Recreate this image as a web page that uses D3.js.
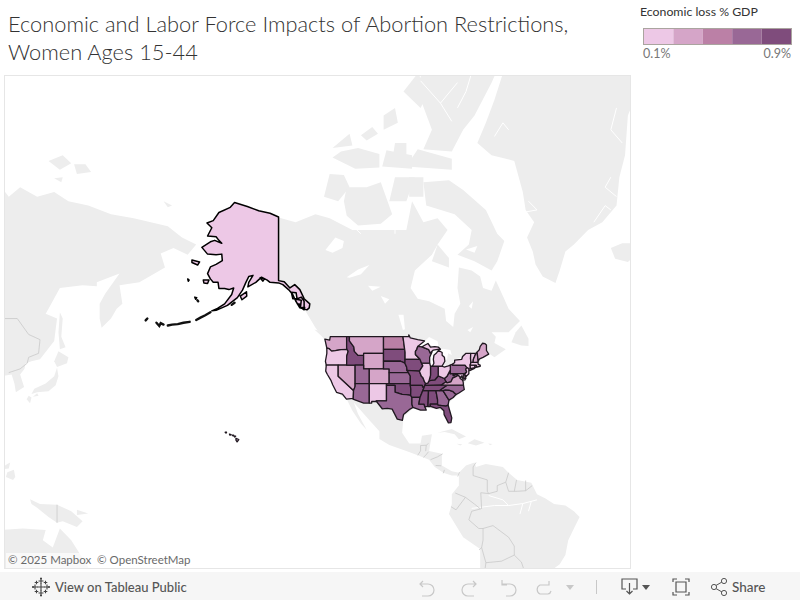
<!DOCTYPE html>
<html>
<head>
<meta charset="utf-8">
<script src="https://cdn.jsdelivr.net/npm/d3@7"></script>
<style>
  html, body { margin: 0; padding: 0; background: #fff; }
  svg { display: block; }
  text { font-family: Lato, "Open Sans", sans-serif; }
</style>
</head>
<body>
<svg id="chart" width="800" height="600"></svg>
<script>
// Title + legend
var titleLines = ['Economic and Labor Force Impacts of Abortion Restrictions,', 'Women Ages 15-44'];
var legendTitle = 'Economic loss % GDP';
var legendLabels = ['0.1%', '0.9%'];
var lossDomain = [0.1, 0.9];
var lossSteps = ['#edc8e6', '#d5a5c8', '#bb80a6', '#996896', '#7f4c7c'];

var stateCodes = ['WA','OR','CA','NV','ID','MT','WY','UT','AZ','CO','NM','ND','SD','NE','KS','OK','TX','MN','IA','MO','AR','LA','MS','AL','GA','FL','SC','NC','TN','KY','WV','VA','MD','DE','PA','OH','IN','IL','WI','MI','NY','NJ','CT','RI','MA','VT','NH','ME','AK','HI'];
var stateLoss = [0.35,0.2,0.2,0.35,0.8,0.35,0.35,0.65,0.65,0.35,0.2,0.5,0.8,0.65,0.65,0.8,0.65,0.2,0.8,0.8,0.8,0.65,0.8,0.8,0.65,0.8,0.65,0.65,0.8,0.8,0.65,0.35,0.2,0.35,0.65,0.2,0.8,0.2,0.65,0.2,0.2,0.2,0.2,0.2,0.2,0.2,0.35,0.35,0.2,0.2];

// State outlines, [lon, lat]
var stateShapes = {
  WA: [[[-124.7,48.4],[-123,48.2],[-122.8,49],[-117.03,49],[-117.03,46.4],[-116.92,46],[-119,45.9],[-121,45.65],[-122.3,45.55],[-123.2,46.15],[-124,46.3]]],
  OR: [[[-124,46.3],[-123.2,46.15],[-122.3,45.55],[-121,45.65],[-119,45.9],[-116.92,46],[-116.5,45.5],[-117,44.3],[-117.03,42],[-124.2,42],[-124.5,43],[-124,45]]],
  CA: [[[-124.2,42],[-120,42],[-120,39],[-114.6,35],[-114.7,32.7],[-117.1,32.5],[-118.5,34],[-120.6,34.5],[-121.9,36.6],[-122.5,37.8],[-123.8,39.5],[-124.4,40.4]]],
  NV: [[[-120,42],[-114.04,42],[-114.04,36.2],[-114.6,35],[-120,39]]],
  ID: [[[-117.03,49],[-116.05,49],[-116.05,48],[-114.5,46.6],[-114.3,45.5],[-113,44.5],[-111.05,44.5],[-111.05,42],[-117.03,42],[-117,44.3],[-116.5,45.5],[-116.92,46],[-117.03,46.4]]],
  MT: [[[-116.05,49],[-104.05,49],[-104.05,45],[-111.05,45],[-111.05,44.5],[-113,44.5],[-114.3,45.5],[-114.5,46.6],[-116.05,48]]],
  WY: [[[-111.05,45],[-104.05,45],[-104.05,41],[-111.05,41]]],
  UT: [[[-114.04,42],[-111.05,42],[-111.05,41],[-109.05,41],[-109.05,37],[-114.04,37]]],
  AZ: [[[-114.04,37],[-109.05,37],[-109.05,31.33],[-111,31.33],[-114.8,32.5],[-114.7,32.7],[-114.6,35],[-114.04,36.2]]],
  CO: [[[-109.05,41],[-102.05,41],[-102.05,37],[-109.05,37]]],
  NM: [[[-109.05,37],[-103,37],[-103,32],[-106.6,32],[-106.5,31.8],[-108.2,31.8],[-108.2,31.33],[-109.05,31.33]]],
  ND: [[[-104.05,49],[-97.2,49],[-96.6,46],[-104.05,46]]],
  SD: [[[-104.05,46],[-96.6,46],[-96.45,45.3],[-96.45,43.5],[-96.5,42.5],[-98,43],[-104.05,43]]],
  NE: [[[-104.05,43],[-98,43],[-96.5,42.5],[-95.9,41.5],[-95.75,40.6],[-95.3,40],[-102.05,40],[-102.05,41],[-104.05,41]]],
  KS: [[[-102.05,40],[-95.3,40],[-94.6,39.1],[-94.62,37],[-102.05,37]]],
  OK: [[[-103,37],[-94.62,37],[-94.43,35.4],[-94.48,33.64],[-96,33.8],[-97.5,33.9],[-100,34.56],[-100,36.5],[-103,36.5]]],
  TX: [[[-103,36.5],[-100,36.5],[-100,34.56],[-97.5,33.9],[-96,33.8],[-94.48,33.64],[-94.04,33],[-94.04,31],[-93.7,30],[-94.7,29.5],[-97,27.8],[-97.4,26],[-99.2,26.4],[-101,29.5],[-102.7,29.7],[-104.5,29.6],[-106.5,31.8],[-106.6,32],[-103,32]]],
  MN: [[[-97.2,49],[-95.15,49],[-95.15,49.4],[-94.6,48.7],[-92,48.3],[-89.6,48],[-92,46.7],[-92.3,46],[-92.8,45.5],[-92.8,44.7],[-91.2,43.5],[-96.45,43.5],[-96.45,45.3],[-96.6,46]]],
  IA: [[[-96.45,43.5],[-91.2,43.5],[-90.2,41.8],[-91.4,40.4],[-95.75,40.6],[-95.9,41.5],[-96.5,42.5]]],
  MO: [[[-95.75,40.6],[-91.4,40.4],[-90.7,39],[-90.2,38.7],[-89.5,37.3],[-89.15,37],[-89.7,36],[-90.3,36],[-90.37,36.5],[-94.62,36.5],[-94.62,37],[-94.6,39.1],[-95.3,40]]],
  AR: [[[-94.62,36.5],[-90.37,36.5],[-90.3,36],[-89.7,36],[-91.2,33],[-94.04,33],[-94.48,33.64],[-94.43,35.4]]],
  LA: [[[-94.04,33],[-91.2,33],[-91.6,31],[-89.75,31],[-89.5,30.2],[-89,29.2],[-91,29.2],[-93.7,30],[-94.04,31]]],
  MS: [[[-91.2,33],[-90.2,35],[-88.2,35],[-88.4,30.3],[-89.5,30.2],[-89.75,31],[-91.6,31]]],
  AL: [[[-88.2,35],[-85.6,35],[-85,32.3],[-85,31],[-87.6,31],[-87.5,30.3],[-88.4,30.3]]],
  GA: [[[-85.6,35],[-83.1,35],[-81,32.2],[-81.3,30.7],[-82.1,30.4],[-84.9,30.7],[-85,31],[-85,32.3]]],
  FL: [[[-87.6,31],[-85,31],[-84.9,30.7],[-82.1,30.4],[-81.3,30.7],[-80.5,28.3],[-80,26.8],[-80.3,25.3],[-81.2,25.2],[-82.7,27.8],[-82.8,29],[-84,30],[-85.4,29.7],[-87.5,30.3]]],
  SC: [[[-83.1,35],[-82.3,35.2],[-81,35.1],[-79.7,34.8],[-78.55,33.85],[-79.5,33],[-81,32.2]]],
  NC: [[[-84.3,35],[-83.1,35],[-82.3,35.2],[-81,35.1],[-79.7,34.8],[-78.55,33.85],[-77.5,34.3],[-75.6,35.3],[-75.9,36.55],[-81.7,36.55],[-82.6,36]]],
  TN: [[[-89.7,36],[-89.5,36.5],[-83.68,36.6],[-81.7,36.55],[-82.6,36],[-84.3,35],[-85.6,35],[-88.2,35],[-90.2,35]]],
  KY: [[[-89.15,37],[-89.5,36.5],[-83.68,36.6],[-82,37.5],[-82.6,38.4],[-84.8,39.1],[-86,38],[-88,37.8],[-88.5,37.1]]],
  WV: [[[-82,37.5],[-82.6,38.4],[-81.7,39],[-80.6,40.6],[-80.52,39.72],[-79.48,39.72],[-79.48,39.2],[-78.4,39.6],[-77.75,39.3],[-78.4,39],[-79.7,38.5],[-80.3,37.5],[-81.7,37.2]]],
  VA: [[[-83.68,36.6],[-81.7,36.55],[-75.9,36.55],[-76,37.5],[-76.3,38],[-77,38.4],[-77.1,38.9],[-77.75,39.3],[-78.4,39],[-79.7,38.5],[-80.3,37.5],[-81.7,37.2],[-82,37.5]]],
  MD: [[[-79.48,39.72],[-75.79,39.72],[-75.7,38.45],[-75.1,38.45],[-75.4,38],[-76,37.95],[-76.4,39.2],[-77,38.4],[-77.1,38.9],[-77.75,39.3],[-78.4,39.6],[-79.48,39.2]]],
  DE: [[[-75.79,39.72],[-75.4,39.8],[-75.1,38.8],[-75.1,38.45],[-75.7,38.45]]],
  PA: [[[-80.52,42],[-79.76,42.25],[-79.76,42],[-75.35,42],[-74.7,41.35],[-75.1,40.9],[-74.75,40.2],[-75.4,39.8],[-75.79,39.72],[-80.52,39.72]]],
  OH: [[[-84.8,41.7],[-83.45,41.73],[-82.7,41.5],[-81.2,41.8],[-80.52,42],[-80.52,39.72],[-80.6,40.6],[-81.7,39],[-82.6,38.4],[-84.8,39.1]]],
  IN: [[[-87.5,41.7],[-84.8,41.7],[-84.8,39.1],[-86,38],[-88,37.8],[-87.5,39.3]]],
  IL: [[[-90.2,41.8],[-90.65,42.5],[-87.8,42.5],[-87.5,41.7],[-87.5,39.3],[-88,37.8],[-88.5,37.1],[-89.15,37],[-89.5,37.3],[-90.2,38.7],[-90.7,39],[-91.4,40.4]]],
  WI: [[[-92.8,44.7],[-92.8,45.5],[-92.3,46],[-92,46.7],[-90.5,46.6],[-88.1,45.9],[-87.6,45.1],[-87,45.3],[-87.8,44],[-87.8,42.5],[-90.65,42.5],[-91.2,43.5]]],
  MI: [[[-86.8,41.76],[-84.8,41.7],[-83.45,41.73],[-83,42.3],[-82.45,43],[-82.6,44],[-83.4,44.5],[-83.4,45.2],[-84.7,45.75],[-85.5,45],[-86.3,44.5],[-86.5,43.5],[-86.3,42.5]],
       [[-90.5,46.6],[-88.1,45.9],[-87.6,45.1],[-86.5,45.8],[-85,46],[-84,46],[-84.7,46.5],[-86,46.65],[-87.5,46.5],[-88.4,47.4]]],
  NY: [[[-79.76,42.25],[-79,42.7],[-79,43.3],[-76.5,43.5],[-76.2,44.2],[-75,45],[-73.35,45],[-73.4,43.6],[-73.25,42.75],[-73.5,42.05],[-73.5,41.05],[-72,41.1],[-73.7,40.55],[-74,40.7],[-74,41],[-74.7,41.35],[-75.35,42],[-79.76,42]]],
  NJ: [[[-74.7,41.35],[-74,41],[-74,39.7],[-74.9,39],[-75.5,39.5],[-74.75,40.2],[-75.1,40.9]]],
  CT: [[[-73.5,42.05],[-71.8,42],[-71.85,41.32],[-73.5,41.05]]],
  RI: [[[-71.8,42],[-71.38,42],[-71.2,41.5],[-71.85,41.32]]],
  MA: [[[-73.25,42.75],[-71.3,42.7],[-70.8,42.85],[-70.7,42.2],[-70,42],[-70,41.7],[-71.2,41.5],[-71.38,42],[-71.8,42],[-73.5,42.05]]],
  VT: [[[-73.35,45],[-71.5,45],[-72.4,43.5],[-72.5,42.73],[-73.25,42.75],[-73.4,43.6]]],
  NH: [[[-71.5,45],[-71.1,45.3],[-70.7,43.1],[-70.8,42.85],[-71.3,42.7],[-72.5,42.73],[-72.4,43.5]]],
  ME: [[[-71.1,45.3],[-70.3,45.9],[-70,46.7],[-69.2,47.45],[-68.3,47.35],[-67.8,47.05],[-67.8,45.7],[-67,44.8],[-69,44],[-70.2,43.6],[-70.7,43.1]]],
  AK: [[[-141,69.65],[-144,70.1],[-148,70.4],[-152,70.9],[-156.5,71.35],[-158,70.8],[-162,70.2],[-164,69.2],[-166.2,68.9],[-164.5,68.3],[-166,67.2],[-163,67.1],[-162,66.6],[-161,66.2],[-163.5,66.6],[-165,66.4],[-168,65.6],[-166,64.6],[-163,64.5],[-161,64.6],[-160.8,63.6],[-163,63],[-165,62.6],[-166,61.5],[-165,60.6],[-164,60],[-162.3,60],[-162,58.9],[-160,58.9],[-158.5,58.7],[-156.8,59],[-157.5,57.8],[-160,56],[-162.5,55.1],[-164.5,54.6],[-163,54.7],[-159,55.7],[-155.5,57.2],[-153.7,58.6],[-152.5,60],[-151.5,61],[-150,61.2],[-151.5,60],[-151.8,59.2],[-149,60],[-147,60.9],[-145,60.4],[-144,60],[-141,59.9],[-139.5,59.6],[-137.5,58.7],[-136,57.8],[-135,56.6],[-133.5,55.2],[-131,54.8],[-130.2,55.2],[-130,56],[-132,57],[-133.5,58.7],[-135.3,59.6],[-137,59],[-139,60.1],[-141,60.3]],
       [[-171.5,63.7],[-168.8,63.4],[-169.5,62.9],[-171.5,63.3]],
       [[-167.5,60.4],[-165.5,60.4],[-166,59.8],[-167.3,59.9]],
       [[-154.5,57.5],[-152.3,58.3],[-152.2,57.5],[-153.9,56.8]],
       [[-173,60.6],[-172.5,60.4],[-172.8,60.2]],
       [[-170.5,57.3],[-169.8,57.2],[-170.2,56.9]],
       [[-147.5,60.8],[-146,60.6],[-146.5,60.2]],
       [[-136.5,58.2],[-134.8,58.1],[-134.5,57],[-136,57]],
       [[-134.8,56.9],[-133,56.7],[-133.3,55.2],[-132,55.2],[-132,56.5],[-133,57.3]],
       [[-134.4,56],[-133.4,55.9],[-133.6,55.4]],
       [[-133,55.2],[-131.8,55.3],[-132,54.8]]],
  HI: [[[-156,20.2],[-155,19.8],[-155.6,19],[-156,19.6]],
       [[-156.7,21],[-156.1,20.9],[-156.4,20.6]],
       [[-158.3,21.6],[-157.7,21.4],[-158.1,21.2]],
       [[-159.8,22.2],[-159.3,22.2],[-159.5,21.9]],
       [[-157.3,21.2],[-156.8,21.2],[-157,21]]]
};
// Aleutians are too thin to fill, stroked as a chain
var aleutianChains = [
  [[-165,54.3],[-166.8,53.7],[-168.5,53.2],[-170,52.7]],
  [[-172.3,52.3],[-174.5,52.1],[-176.5,51.8],[-178.5,51.7],[-180,51.5]],
  [[-181.5,51.7],[-182.5,52],[-183,51.4],[-184,52.1]],
  [[-187.2,53],[-187.8,52.6]],
  [[-169.6,56.7],[-169.3,56.5]],
  [[-157.5,55.8],[-156.5,56.2]]
];

// Basemap land, [lon, lat]. Lons below -180 are the Asian side of the date line
var landShapes = [
  [[-141,69.6],[-135,69],[-128,70],[-123,69.5],[-115,68],[-108,68],[-102,68],[-96,68],[-94,71.5],[-90,69],[-85,69.5],[-81.5,68],[-85,66],[-87,64.5],[-93,62],[-94.5,59],[-92,57],[-88,56.5],[-82.5,55],[-82,52.5],[-79.5,51.2],[-79,54],[-77,56],[-78,59],[-77.5,62.5],[-73,62],[-70,61],[-69,59],[-66,58.5],[-64.5,60.3],[-62,57.5],[-60,55],[-56,52.5],[-60,50],[-66,50],[-64.5,49],[-65,47.5],[-61,46],[-65,44],[-67,45],[-70,43.5],[-70,41.7],[-74,40.5],[-75.5,37],[-76,35],[-81,31.5],[-80,26],[-81,25],[-83,29],[-89,30],[-94,29.5],[-97,27],[-97.5,22],[-95,18.5],[-91,18.5],[-90.5,21],[-87,21.5],[-88,16],[-83.5,15],[-83.5,11],[-80,9],[-77.5,8.5],[-78,7.5],[-80,7.5],[-83,8.5],[-86,10.5],[-88,13],[-92,14.5],[-96,16],[-102,18],[-105.5,20],[-105.5,22.5],[-109,26],[-112.5,29.5],[-114.5,31.5],[-113,28],[-110,23],[-112,25],[-115,29],[-117,32.5],[-120.5,34.5],[-124,40],[-124.5,48],[-128,51],[-132,55],[-137,59],[-141,60]],
  // Greenland, Iceland
  [[-43.5,59.9],[-48,61],[-50.5,63],[-51.5,65],[-53.5,67],[-51,69],[-54,70.5],[-55,72.5],[-58,75.5],[-66,76],[-71,77],[-68,78.5],[-65,80],[-62,81.5],[-50,82.5],[-35,83.6],[-20,82.5],[-12,81.5],[-18,79],[-19,76],[-21,74],[-22,71],[-27,69],[-32,68],[-37,66],[-40,65],[-42,62]],
  [[-24,65.5],[-20,66.2],[-15,66.2],[-13.5,65],[-18,63.4],[-22.5,63.9]],
  // Arctic islands
  [[-125,72],[-123,74.3],[-118,74.2],[-116,73],[-120,71.5]],
  [[-118,71.5],[-117,73],[-110,73],[-105,73.5],[-101,70],[-105,68.8],[-113,68.6],[-117,69.8]],
  [[-61.5,66.5],[-64,63.5],[-66,62],[-72,63.5],[-78,64.5],[-74,66],[-73,68],[-79,70],[-89,71],[-90,73.5],[-81,73.7],[-76,72.7],[-68,70.5],[-64,67.5]],
  [[-90,76.5],[-80,76.3],[-76,78],[-72,79],[-66,81],[-62,82.3],[-75,83],[-90,82],[-92,80.5],[-87,78]],
  [[-96,75],[-80,74.7],[-80,75.7],[-92,76.5]],
  [[-122,75.8],[-114,74.8],[-105.5,74.9],[-105.5,76.1],[-113,76.6],[-119,76.3]],
  [[-104.5,75],[-94,74.8],[-94,76],[-103,76.4]],
  [[-102,71.5],[-96,71.5],[-93,74],[-100,74]],
  [[-95,72],[-90,72],[-90,74],[-95,74]],
  [[-87,63.5],[-81,62.5],[-81,64],[-85,66]],
  [[-97,80.5],[-91,79.5],[-88,80.5],[-92,81.5]],
  [[-104,78],[-99,78.5],[-100,79.5],[-104,79]],
  [[-122,76.6],[-116,77.7],[-115,76.8]],
  [[-101,75.5],[-96,75.5],[-96,77],[-100,77]],
  [[-112,77.6],[-108,78.2],[-106,77.7],[-110,77.2]],
  // Newfoundland, Vancouver Is.
  [[-59,47.7],[-55.5,46.9],[-53,46.8],[-53,48.5],[-55.5,51.5],[-57.5,50]],
  [[-128.4,50.6],[-125,50],[-123.4,48.4],[-125.5,48.9]],
  // Caribbean
  [[-85,22],[-80,23.2],[-75,20.8],[-77.5,19.9],[-79,21.5],[-82.5,22.3]],
  [[-74.4,18.6],[-72,19.9],[-68.5,18.7],[-71.5,17.8]],
  [[-78.3,18.4],[-76.3,18.2],[-77,17.8]],
  [[-67.2,18.5],[-65.7,18.3],[-66.5,17.9]],
  // South America
  [[-77.5,8.5],[-75,11],[-72,12],[-71.5,10.5],[-68,11.5],[-62,10.5],[-60,8.5],[-57,6],[-52,5],[-50,1],[-47,-0.5],[-44,-2.5],[-40,-3],[-37,-5],[-35,-7],[-37,-11],[-39,-15],[-40,-20],[-42,-23],[-48,-27],[-70,-27],[-70,-18],[-76,-14],[-81,-6],[-80,-2.5],[-80,1],[-77.5,4]],
  // Asia
  [[-245,73.5],[-240,73.5],[-236,72],[-232,73],[-226,72],[-220,72.5],[-215,71.5],[-208,71],[-200,70],[-192,69.5],[-186,69],[-180,68.5],[-175,67],[-170,66],[-173,64.5],[-178,65.5],[-182.5,64.7],[-181,62.5],[-190,60],[-197,59.5],[-196,56],[-198,55],[-200,53],[-203.3,51],[-204,53],[-204,56],[-202,58],[-197,61.5],[-205,60],[-205,59.3],[-210,59.5],[-218,59],[-222,55],[-223,54],[-219,53],[-220,48],[-225,43.5],[-228,43],[-230,42.5],[-230.5,41],[-232,39.5],[-230.6,36],[-233.5,34.5],[-234,37],[-235,39.5],[-239,39],[-238,37],[-240,35],[-238,30],[-245,28]],
  // New Siberian Islands
  [[-222,75.5],[-217,76],[-214,75.3],[-218,74.7]],
  [[-213,75.2],[-209,75.2],[-207,74.5],[-212,74.3]],
  [[-220,73.9],[-217,74],[-217.5,73.5]],
  [[-181.5,71.5],[-178.5,71],[-180,70.8]],
  // Sakhalin, Japan
  [[-218,54.3],[-217,53],[-217.5,49],[-216,46.5],[-218,46],[-218.5,50]],
  [[-218.5,45.5],[-215,44],[-215.5,42.5],[-219,41.5],[-220,43]],
  [[-219,41.3],[-218.5,39],[-219.5,36.5],[-222,34.8],[-226,34.5],[-228,34],[-227,35.5],[-223,37],[-220,39]],
  [[-229,33.5],[-228,33],[-228.5,31.3],[-229.7,32.5]],
  [[-226,34.2],[-225.5,33.5],[-227.5,33.2]],
  // Philippines, New Guinea, Australia
  [[-240,18.5],[-237.7,18.4],[-237.5,14],[-240,14]],
  [[-234.2,9.5],[-233.7,7],[-234.5,6],[-237,7],[-236.5,8.7]],
  [[-238,10.5],[-236.5,11.5],[-235.5,12],[-236,10],[-237.5,9.8]],
  [[-228.5,-0.8],[-225,-2.5],[-219,-2.7],[-214,-5],[-210,-8.5],[-212,-10.5],[-217,-8.5],[-219,-9],[-222,-7],[-226,-3.8],[-228,-2.5]],
  [[-212,-4.5],[-208,-5.8],[-212,-6.3]],
  [[-245,-12],[-231,-11],[-223,-11.5],[-224,-15],[-220.5,-17.5],[-218,-11],[-214,-15],[-208,-24],[-207,-30],[-245,-30]]
];
var lakeShapes = [
  [[-92,46.8],[-89.5,48],[-88,48.9],[-85,47.9],[-84.6,46.5],[-86.5,46.65],[-88.4,47.4],[-90.5,46.7]],
  [[-87.8,42],[-87,41.6],[-86.3,42.6],[-86.3,44],[-85.2,45.7],[-86.5,45.9],[-87.5,44.6],[-87.7,43.3]],
  [[-84.6,45.9],[-83.4,45.2],[-83.3,44],[-82.5,43.1],[-81.7,43.5],[-81.3,45],[-80,44.6],[-80.5,45.8],[-83,46.1]],
  [[-83.3,41.8],[-81,42],[-79,42.85],[-79.8,42.4],[-81.5,41.6],[-82.7,41.45]],
  [[-79.7,43.3],[-77,43.9],[-76.3,44],[-76.3,43.5],[-79,43.25]],
  [[-98.8,53.8],[-97,53.8],[-96.5,50.7],[-97.2,50.5]],
  [[-117,60.9],[-113,62.2],[-109,62.9],[-112,61.4],[-116,60.8]],
  [[-124.5,65.2],[-121,67],[-118,66.5],[-118.5,65.5],[-122,64.8]],
  [[-109.5,59.4],[-105,59.2],[-108,58.5]],
  [[-105,57.5],[-102,56.9],[-103.5,56]],
  [[-74.5,50.5],[-72.5,51.2],[-73.5,50]],
  [[-75,65.3],[-71,65.8],[-72,64.8]],
  [[-74,55.5],[-72.5,56.5],[-73,55]]
];
// Country borders on the basemap
var borderLines = [
  [[-71.5,12],[-72.5,10.5],[-72.5,7.5],[-67.5,6],[-67.5,2],[-67,1.2]],
  [[-60,8.5],[-61,5.2],[-64,4],[-64,2],[-67,1.2],[-69.8,1.5],[-69.5,-4.2]],
  [[-61,5.2],[-60,2],[-57,2],[-54,2.2],[-51.7,4]],
  [[-57.2,6],[-58,2]],
  [[-54,5.8],[-54,2.2]],
  [[-69.9,-4.2],[-72,-2.5],[-75.2,-0.1],[-78.8,1.4]],
  [[-75.2,-0.1],[-78.5,-4.5],[-80.3,-3.4]],
  [[-69.9,-4.2],[-73,-5],[-74,-8],[-70.5,-11],[-69,-11],[-69,-15],[-69.5,-17.5],[-70.4,-18.3]],
  [[-69,-11],[-65.5,-10],[-60,-14],[-58,-17],[-58,-20],[-55.5,-22.3],[-54.5,-25]],
  [[-58,-20],[-62.5,-22],[-68,-22.5],[-69.5,-17.5]],
  [[-68,-22.5],[-68.5,-26]],
  [[-92,14.5],[-91,16],[-91,17.8],[-89,17.9],[-88.2,18.5]],
  [[-89.2,15.9],[-89,17.9]],
  [[-88.2,15.7],[-89.3,14.4],[-90,13.8]],
  [[-87.5,13],[-85,14],[-83.2,15]],
  [[-85.7,11],[-83.7,10.9]],
  [[-83,8.3],[-82.6,9.5]],
  [[-77.9,7.2],[-77.3,8.7]],
  [[-240,53],[-233,53],[-229,49.5],[-225,48.3],[-225.5,45],[-229,44],[-229.5,42.5],[-232,41],[-236,40]],
  [[-219,-2.7],[-219,-9]]
];
// White cuts through the land: rivers, fiords
var riverLines = [
  [[-73,-4],[-65,-3],[-60,-3],[-55,-2.3],[-50,-1]],
  [[-60,-3],[-62,-1],[-67,0.5]],
  [[-55,-2.3],[-56,-6]],
  [[-52,-1.5],[-53,-5]],
  [[-91,81.1],[-84,79.8],[-80,78.6]],
  [[-84,79.8],[-78,81]],
  [[-72,82],[-75,80.5],[-78,79.5]],
  [[-65,77.5],[-62,78.5],[-60,78]],
  [[-55,70.2],[-50,70.5],[-53,71.5]],
  [[-30,69],[-26,71],[-24,70.5]],
  [[-22,72],[-26,73],[-24,74]],
  [[-20,77],[-24,78],[-22,79.5]],
  [[-90,69.5],[-92,70.5]],
  [[-100,69],[-100,67.5]],
  [[-114,68.2],[-112,67.5]]
];
var copyrightText = '\u00a9 2025 Mapbox  \u00a9 OpenStreetMap';

var svg = d3.select('#chart');

// Web mercator, fitted by hand to the reference viewport
var frame = { x: 4.5, y: 75.5, width: 626, height: 493 };
var mercator = function (lat) {
  return Math.log(Math.tan(Math.PI / 4 + lat * Math.PI / 360));
};
var x = d3.scaleLinear().domain([-180, 0]).range([167.8, 679]);
var y = d3.scaleLinear().domain([0, 1]).range([497, 334]);
var ring = d3.line()
  .x(function (d) { return x(d[0]); })
  .y(function (d) { return y(mercator(d[1])); });
var closedRing = function (d) { return ring(d) + 'Z'; };

svg.append('clipPath').attr('id', 'map-clip')
  .append('rect')
  .attr('x', frame.x).attr('y', frame.y)
  .attr('width', frame.width).attr('height', frame.height);

var map = svg.append('g').attr('clip-path', 'url(#map-clip)');

map.append('g').selectAll('path').data(landShapes).join('path')
  .attr('d', closedRing)
  .attr('fill', '#ededed');
map.append('g').selectAll('path').data(lakeShapes).join('path')
  .attr('d', closedRing)
  .attr('fill', '#fff');
map.append('g').selectAll('path').data(riverLines).join('path')
  .attr('d', ring)
  .attr('fill', 'none')
  .attr('stroke', '#fff')
  .attr('stroke-width', 1);
map.append('g').selectAll('path').data(borderLines).join('path')
  .attr('d', ring)
  .attr('fill', 'none')
  .attr('stroke', '#c4c4c4')
  .attr('stroke-width', 0.7);

// Choropleth
var color = d3.scaleQuantize().domain(lossDomain).range(lossSteps);
var states = stateCodes.map(function (code, i) {
  return { code: code, loss: stateLoss[i], rings: stateShapes[code] };
});
map.append('g').selectAll('path').data(states).join('path')
  .attr('d', function (d) { return d.rings.map(closedRing).join(''); })
  .attr('fill', function (d) { return color(d.loss); })
  .attr('stroke', function (d) { return d.code === 'AK' ? '#000' : '#201820'; })
  .attr('stroke-width', function (d) { return d.code === 'AK' ? 1.5 : 1.3; })
  .attr('stroke-linejoin', 'round');
map.append('g').selectAll('path').data(aleutianChains).join('path')
  .attr('d', ring)
  .attr('fill', 'none')
  .attr('stroke', '#111')
  .attr('stroke-width', 2.4)
  .attr('stroke-linecap', 'round');

svg.append('rect')
  .attr('x', frame.x).attr('y', frame.y)
  .attr('width', frame.width).attr('height', frame.height)
  .attr('fill', 'none')
  .attr('stroke', '#e6e6e6');

// Attribution
svg.append('rect')
  .attr('x', 6).attr('y', 553).attr('width', 186).attr('height', 15)
  .attr('fill', '#fff').attr('fill-opacity', 0.65);
svg.append('text')
  .attr('x', 8).attr('y', 564)
  .attr('font-size', 11.5)
  .attr('fill', '#6a6a6a')
  .attr('xml:space', 'preserve')
  .text(copyrightText);

// Title
svg.append('g').selectAll('text').data(titleLines).join('text')
  .attr('x', 8)
  .attr('y', function (d, i) { return 32 + i * 28; })
  .attr('font-size', 21.8)
  .attr('font-weight', 300)
  .attr('fill', '#333')
  .text(function (d) { return d; });

// Legend
var legendX = d3.scaleBand().domain(d3.range(lossSteps.length)).range([644, 791]);
svg.append('text')
  .attr('x', 640).attr('y', 16)
  .attr('font-size', 12.3)
  .attr('fill', '#333')
  .text(legendTitle);
svg.append('g').selectAll('rect').data(lossSteps).join('rect')
  .attr('x', function (d, i) { return legendX(i); })
  .attr('y', 29)
  .attr('width', legendX.bandwidth())
  .attr('height', 15)
  .attr('fill', function (d) { return d; });
svg.append('rect')
  .attr('x', 643.5).attr('y', 28.5).attr('width', 148).attr('height', 16)
  .attr('fill', 'none').attr('stroke', '#aaa49f');
svg.append('g').selectAll('text').data(legendLabels).join('text')
  .attr('x', function (d, i) { return i === 0 ? 643 : 791; })
  .attr('y', 58)
  .attr('text-anchor', function (d, i) { return i === 0 ? 'start' : 'end'; })
  .attr('font-size', 12.5)
  .attr('fill', '#777')
  .text(function (d) { return d; });

// Tableau toolbar
svg.append('rect')
  .attr('x', 0).attr('y', 572).attr('width', 800).attr('height', 28)
  .attr('fill', '#f6f6f6');
svg.append('text')
  .attr('x', 55).attr('y', 591.5)
  .attr('font-size', 13).attr('font-weight', 500).attr('fill', '#555')
  .text('View on Tableau Public');
svg.append('text')
  .attr('x', 732).attr('y', 591.5)
  .attr('font-size', 13.5).attr('font-weight', 500).attr('fill', '#555')
  .text('Share');

// Tableau logo: a cluster of small plus signs
var logoPluses = [[41, 587, 4], [41, 581, 2.5], [41, 593, 2.5], [35, 587, 2.5], [47, 587, 2.5], [36.5, 582.5, 1.8], [45.5, 582.5, 1.8], [36.5, 591.5, 1.8], [45.5, 591.5, 1.8], [41, 578.5, 1], [41, 595.5, 1], [33, 587, 1], [49, 587, 1]];
svg.append('g').selectAll('path').data(logoPluses).join('path')
  .attr('d', function (d) { return 'M' + (d[0] - d[2]) + ' ' + d[1] + 'h' + (2 * d[2]) + 'M' + d[0] + ' ' + (d[1] - d[2]) + 'v' + (2 * d[2]); })
  .attr('fill', 'none')
  .attr('stroke', '#444')
  .attr('stroke-width', 1.1);

var toolbarIcons = [
  { d: 'M423 581l-3 3 3 3M420 584h8a6 6 0 0 1 0 12h-6', stroke: '#c8c8c8', width: 1.2 },
  { d: 'M473 581l3 3-3 3M476 584h-8a6 6 0 0 0 0 12h6', stroke: '#c8c8c8', width: 1.2 },
  { d: 'M502 580v5h5M502 585l1-1h7a6 6 0 0 1 0 12h-4', stroke: '#c8c8c8', width: 1.2 },
  { d: 'M549 581v4h-4M549 585h-9a5 5 0 0 0 0 9h8a4 4 0 0 0 3-3', stroke: '#c8c8c8', width: 1.2 },
  { d: 'M596.5 580v14', stroke: '#c8c8c8', width: 1 },
  { d: 'M626 589h-4v-10h15v10h-4M629.5 583v11M626.5 591l3 3 3-3', stroke: '#555', width: 1.2 },
  { d: 'M673 582v-3h4M685 579h4v3M689 592v3h-4M677 595h-4v-3M676 582h10v10h-10z', stroke: '#555', width: 1.2 },
  { d: 'M715 586l7-4M715 588l7 4', stroke: '#555', width: 1 }
];
svg.append('g').selectAll('path').data(toolbarIcons).join('path')
  .attr('d', function (d) { return d.d; })
  .attr('fill', 'none')
  .attr('stroke', function (d) { return d.stroke; })
  .attr('stroke-width', function (d) { return d.width; });

var toolbarCarets = ['M566 585h8l-4 5z', 'M642 585h8l-4 5z'];
svg.append('g').selectAll('path').data(toolbarCarets).join('path')
  .attr('d', function (d) { return d; })
  .attr('fill', function (d, i) { return i === 0 ? '#c8c8c8' : '#555'; });

var shareDots = [[714, 587], [724, 581], [724, 593]];
svg.append('g').selectAll('circle').data(shareDots).join('circle')
  .attr('cx', function (d) { return d[0]; })
  .attr('cy', function (d) { return d[1]; })
  .attr('r', 2.6)
  .attr('fill', '#f6f6f6')
  .attr('stroke', '#555');
</script>
</body>
</html>
